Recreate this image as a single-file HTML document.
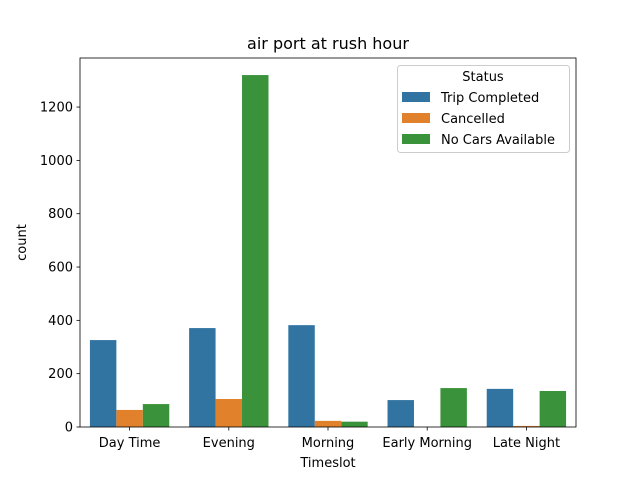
<!DOCTYPE html>
<html><head><meta charset="utf-8"><style>body{margin:0;background:#fff}svg{font-family:"DejaVu Sans","Liberation Sans",sans-serif}</style></head>
<body>
<svg id="chart" width="640" height="480" xmlns="http://www.w3.org/2000/svg"></svg>
<script>
const categories = ["Day Time","Evening","Morning","Early Morning","Late Night"];
const seriesNames = ["Trip Completed","Cancelled","No Cars Available"];
const tripCompleted = [326, 371, 382, 101, 143];
const cancelled = [64, 105, 23, 0, 4];
const noCars = [86, 1320, 20, 146, 135];
const yTicks = [0,200,400,600,800,1000,1200];
const colors = ["#3274a1","#e1812c","#3a923a"];
const series = [tripCompleted, cancelled, noCars];

const L=80,R=576,T=58,B=427;
const y = v => B - v*(B-T)/1384;
const band = (R-L)/categories.length;
const xc = i => L + band*(i+0.5);
const NS="http://www.w3.org/2000/svg";
const svg=document.getElementById('chart');
function mk(tag,attrs,text){const e=document.createElementNS(NS,tag);for(const k in attrs)e.setAttribute(k,attrs[k]);if(text!==undefined)e.textContent=text;svg.appendChild(e);return e;}

const bw = band*0.8/3;
series.forEach((s,si)=>{
  s.forEach((v,i)=>{
    const x = xc(i) - band*0.4 + si*bw;
    const r = mk('rect',{x:x,y:y(v),width:bw,height:B-y(v),fill:colors[si]});
    
    
  });
});
yTicks.forEach(t=>{
  const l=mk('line',{x1:L-3.5,x2:L,y1:y(t),y2:y(t),stroke:'#000','stroke-width':0.8});
  
  
  const tx=mk('text',{x:L-7,y:y(t)+4.5,'text-anchor':'end','font-size':13},String(t));
  
  
});
categories.forEach((c,i)=>{
  const l=mk('line',{x1:xc(i),x2:xc(i),y1:B,y2:B+3.5,stroke:'#000','stroke-width':0.8});
  
  
  const tx=mk('text',{x:xc(i),y:B+20,'text-anchor':'middle','font-size':13},c);
  
  
});
const fr=mk('rect',{x:L,y:T,width:R-L,height:B-T,fill:'none',stroke:'#000','stroke-width':0.8});


const ti=mk('text',{x:(L+R)/2,y:49,'text-anchor':'middle','font-size':16},'air port at rush hour');


const xl=mk('text',{x:(L+R)/2,y:467,'text-anchor':'middle','font-size':13},'Timeslot');


const yl=mk('text',{x:26,y:(T+B)/2,'text-anchor':'middle','font-size':13,transform:'rotate(-90 26 '+((T+B)/2)+')'},'count');


const lb=mk('rect',{x:397.5,y:65.5,width:172,height:87,rx:3,fill:'#fff','fill-opacity':0.8,stroke:'#ccc','stroke-width':1});


const lt=mk('text',{x:483,y:81,'text-anchor':'middle','font-size':13},'Status');


seriesNames.forEach((n,i)=>{
  const cy=97+i*21;
  const p=mk('rect',{x:402,y:cy-5,width:28,height:10,fill:colors[i]});
  
  
  const t=mk('text',{x:441,y:cy+5,'font-size':13},n);
  
  
});
</script>
</body></html>
